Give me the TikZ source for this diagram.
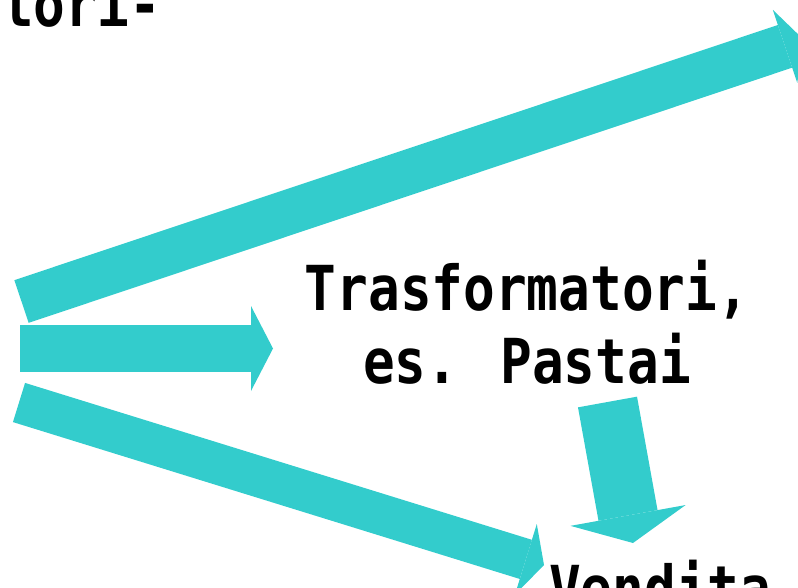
\documentclass[tikz,border=0pt]{standalone}
\usepackage{fontspec}
\usepackage{tikz}
\usetikzlibrary{arrows.meta,positioning,calc}
\newfontfamily\slidefont{DejaVu Sans Mono}[FakeStretch=0.85]
\definecolor{arrowteal}{RGB}{51,204,204}
\edef\sizefont{62pt}
\tikzstyle{slidetext}=[font=\slidefont\bfseries\fontsize{\sizefont}{73pt}\selectfont, inner sep=0pt]
\tikzset{flowarrow/.style n args={3}{draw=arrowteal, line width=#1,
	-{Triangle[width=#2,length=#3,line width=0pt]}}}

\begin{document}
\begin{tikzpicture}[x=1pt,y=-1pt]
	\useasboundingbox (0,0) rectangle (798,588);
	
	% texts
	\node[slidetext, anchor=base east] (prod) at (161,27) {tori-};
	\node[slidetext, anchor=base] (trasf) at (527,310) {Trasformatori,};
	\node[slidetext, anchor=base] (pastai) at (527,383) {es. Pastai};
	\node[slidetext, anchor=base west] (vend) at (549,610) {Vendita};
	
	% arrow ends
	\coordinate (up0) at (21.5,301.5);
	\coordinate (up1) at (804,40);
	\coordinate (mid0) at (20,348.5);
	\coordinate (mid1) at (273,348.5);
	\coordinate (low0) at (19,402.5);
	\coordinate (low1) at (544,565);
	\coordinate (down0) at (607.5,402);
	\coordinate (down1) at (633,543);
	
	\draw[flowarrow={45pt}{77pt}{20pt}] (up0) -- (up1);
	\draw[flowarrow={47pt}{85pt}{22pt}] (mid0) -- (mid1);
	\draw[flowarrow={41pt}{74pt}{19pt}] (low0) -- (low1);
	\draw[flowarrow={60pt}{117pt}{28pt}] (down0) -- (down1);
\end{tikzpicture}
\end{document}
